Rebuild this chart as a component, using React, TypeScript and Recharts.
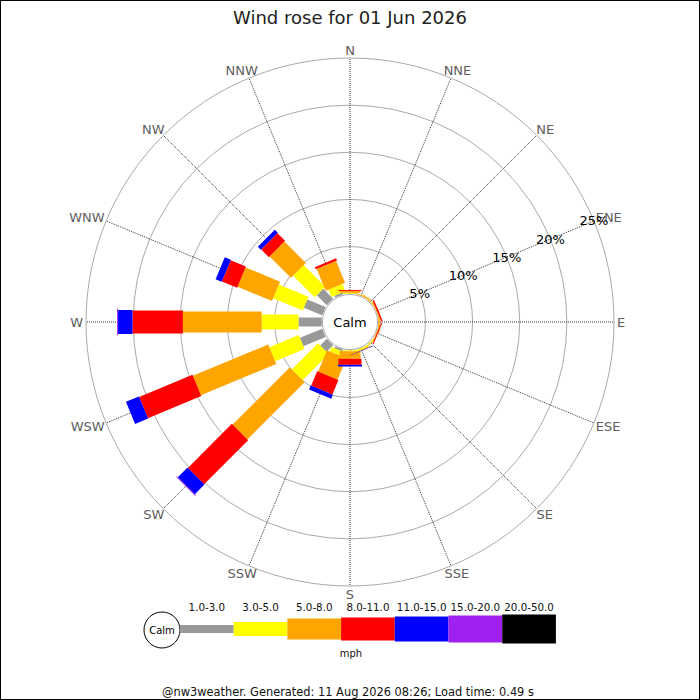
import React from 'react';
import { RadarChart, Radar, PolarGrid, PolarAngleAxis, PolarRadiusAxis, Legend } from 'recharts';

// compass sectors, clockwise from north
const DIRECTIONS = ['N', 'NNE', 'NE', 'ENE', 'E', 'ESE', 'SE', 'SSE', 'S', 'SSW', 'SW', 'WSW', 'W', 'WNW', 'NW', 'NNW'];

// % of the day in each speed band, per direction
const BIN_1_3 = [0, 0, 0, 0, 0, 0, 0, 0, 0, 0.2, 1.0, 2.55, 2.46, 2.1, 1.5, 0.2];
const BIN_3_5 = [0.1, 0, 0, 0, 0, 0, 0.1, 0.15, 0.1, 0.5, 3.93, 3.38, 3.91, 3.4, 3.25, 0.85];
const BIN_5_8 = [0.2, 0.1, 0.1, 0.1, 0.15, 0.1, 0.05, 0.1, 0.81, 2.46, 8.57, 8.65, 8.35, 3.95, 3.2, 2.5];
const BIN_8_11 = [0.1, 0, 0, 0.15, 0, 0.1, 0, 0, 0.63, 1.66, 6.6, 6.12, 5.35, 1.75, 1.15, 0.25];
const BIN_11_15 = [0, 0, 0, 0, 0, 0, 0, 0.05, 0.18, 0.45, 1.45, 1.5, 1.53, 0.7, 0.45, 0];
const BIN_15_20 = [0, 0, 0, 0, 0, 0, 0, 0, 0, 0, 0.1, 0, 0.1, 0, 0, 0];
const BIN_20_50 = [0, 0, 0, 0, 0, 0, 0, 0, 0, 0, 0, 0, 0, 0, 0, 0];

const SPEED_LABELS = ['1.0-3.0', '3.0-5.0', '5.0-8.0', '8.0-11.0', '11.0-15.0', '15.0-20.0', '20.0-50.0'];
const RING_TICKS = [5, 10, 15, 20, 25];

const BINS = [BIN_1_3, BIN_3_5, BIN_5_8, BIN_8_11, BIN_11_15, BIN_15_20, BIN_20_50];
const COLORS = ['#999999', '#ffff00', '#ffa500', '#ff0000', '#0000ff', '#a020f0', '#000000'];
const BAR_WIDTHS = [9, 15, 21, 23, 24, 27, 29];
const LEGEND_HEIGHTS = [8, 14, 21, 23, 25, 27, 29];

const FONT = '"DejaVu Sans", Verdana, sans-serif';
const CX = 350;
const CY = 322;
const OUTER = 264;
const DOMAIN: [number, number] = [-2.9, 25];
const RAD = Math.PI / 180;

// stacked ranges [start, end] for each band
const data = DIRECTIONS.map((dir, i) => {
  const row: Record<string, any> = { dir };
  let acc = 0;
  BINS.forEach((bin, k) => {
    row[`b${k}`] = [acc, acc + bin[i]];
    acc += bin[i];
  });
  return row;
});

const CHAR_W: Record<string, number> = { N: 0.748, E: 0.632, S: 0.635, W: 0.989 };

function WindBars(props: any) {
  const { points, baseLinePoints, fill, barWidth, calm } = props;
  if (!points || !points.length) return null;
  const base = baseLinePoints && baseLinePoints.length === points.length ? baseLinePoints : null;
  const innerOf = (p: any, i: number) => {
    if (base) return base[i].radius;
    const [lo, hi] = p.value;
    return hi - DOMAIN[0] === 0 ? 0 : (p.radius * (lo - DOMAIN[0])) / (hi - DOMAIN[0]);
  };
  const r0 = innerOf(points[0], 0);
  const h = barWidth / 2;
  return (
    <g>
      {calm && (
        <g>
          <circle cx={points[0].cx} cy={points[0].cy} r={r0 - 0.7} fill="#fff" stroke="#aaa" strokeWidth={1} />
          <text
            x={points[0].cx}
            y={points[0].cy}
            textAnchor="middle"
            dominantBaseline="central"
            fontSize={13}
            fontFamily={FONT}
            fill="#000"
          >
            Calm
          </text>
        </g>
      )}
      {points.map((p: any, i: number) => {
        const rOut = p.radius;
        const rIn = innerOf(p, i);
        if (!(rOut - rIn > 0.01)) return null;
        const ux = Math.cos(-p.angle * RAD);
        const uy = Math.sin(-p.angle * RAD);
        const nx = -uy;
        const ny = ux;
        const c = (r: number, s: number) => `${p.cx + ux * r + nx * h * s},${p.cy + uy * r + ny * h * s}`;
        return <polygon key={i} points={`${c(rIn, 1)} ${c(rOut, 1)} ${c(rOut, -1)} ${c(rIn, -1)}`} fill={fill} />;
      })}
    </g>
  );
}

const renderDirTick = (p: any) => {
  const label: string = p.payload.value;
  const cx = p.cx ?? CX;
  const cy = p.cy ?? CY;
  const a = -p.payload.coordinate * RAD;
  const ux = Math.cos(a);
  const uy = Math.sin(a);
  const fs = 13;
  const w = label.split('').reduce((s, ch) => s + (CHAR_W[ch] ?? 0.7), 0) * fs;
  const hgt = 10;
  const r = OUTER + 3;
  const x = cx + ux * r + (ux * w) / 2;
  const y = cy + uy * r + (uy * hgt) / 2;
  return (
    <text x={x} y={y} textAnchor="middle" dominantBaseline="central" fontSize={fs} fontFamily={FONT} fill="#5e5e5e">
      {label}
    </text>
  );
};

const renderRingTick = (p: any) => (
  <text x={p.x} y={p.y} textAnchor="middle" dominantBaseline="central" fontSize={13} fontFamily={FONT} fill="#000">
    {p.payload.value}%
  </text>
);

const renderLegend = () => {
  const x0 = 180;
  const step = 53.7;
  const midY = 41;
  return (
    <svg width={700} height={80} style={{ display: 'block' }}>
      <circle cx={162} cy={midY + 1} r={18} fill="#fff" stroke="#000" strokeWidth={1} />
      <text x={162} y={midY + 1} textAnchor="middle" dominantBaseline="central" fontSize={10} fontFamily={FONT} fill="#000">
        Calm
      </text>
      {SPEED_LABELS.map((label, k) => (
        <g key={label}>
          <rect
            x={x0 + k * step}
            y={midY - LEGEND_HEIGHTS[k] / 2}
            width={step}
            height={LEGEND_HEIGHTS[k]}
            fill={COLORS[k]}
          />
          <text
            x={x0 + k * step + step / 2}
            y={19}
            textAnchor="middle"
            dominantBaseline="central"
            fontSize={10.3}
            fontFamily={FONT}
            fill="#111"
          >
            {label}
          </text>
        </g>
      ))}
      <text x={351} y={65} textAnchor="middle" dominantBaseline="central" fontSize={10} fontFamily={FONT} fill="#111">
        mph
      </text>
    </svg>
  );
};

export default function App() {
  return (
    <div style={{ position: 'absolute', left: 0, top: 0, width: 700, height: 700, background: '#fff', fontFamily: FONT }}>
      <div style={{ position: 'absolute', left: 0, top: 0 }}>
        <RadarChart
          width={700}
          height={700}
          data={data}
          cx={CX}
          cy={CY}
          outerRadius={OUTER}
          innerRadius={0}
          margin={{ top: 0, right: 0, bottom: 0, left: 0 }}
        >
          <PolarGrid gridType="circle" radialLines={false} stroke="#aaaaaa" strokeWidth={1} />
          <PolarGrid gridType="circle" polarRadius={[]} radialLines stroke="#333" strokeDasharray="1 1" />
          <PolarAngleAxis dataKey="dir" tick={renderDirTick} tickLine={false} axisLine={false} />
          <PolarRadiusAxis
            angle={22.5}
            type="number"
            domain={DOMAIN}
            ticks={RING_TICKS}
            tick={renderRingTick}
            axisLine={false}
            tickLine={false}
          />
          {BINS.map((_, k) => (
            <Radar
              key={k}
              dataKey={`b${k}`}
              isAnimationActive={false}
              dot={false}
              activeDot={false}
              legendType="none"
              shape={(p: any) => <WindBars {...p} fill={COLORS[k]} barWidth={BAR_WIDTHS[k]} calm={k === 0} />}
            />
          ))}
          <Legend content={renderLegend} wrapperStyle={{ position: 'absolute', left: 0, top: 588, width: 700, height: 80 }} />
        </RadarChart>
      </div>
      <svg width={700} height={700} style={{ position: 'absolute', left: 0, top: 0, pointerEvents: 'none' }}>
        <text x={350} y={17} textAnchor="middle" dominantBaseline="central" fontSize={18} fontFamily={FONT} fill="#222">
          Wind rose for 01 Jun 2026
        </text>
        <text x={348} y={692} textAnchor="middle" dominantBaseline="central" fontSize={11.4} fontFamily={FONT} fill="#111">
          @nw3weather. Generated: 11 Aug 2026 08:26; Load time: 0.49 s
        </text>
        <rect x={0.5} y={0.5} width={699} height={699} fill="none" stroke="#000" strokeWidth={1} />
      </svg>
    </div>
  );
}
